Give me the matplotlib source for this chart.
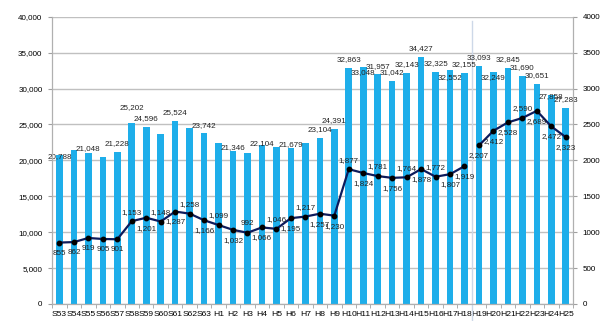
import numpy as np
from matplotlib import pyplot as plt
from matplotlib.ticker import FuncFormatter, MultipleLocator

plt.rcParams["font.family"] = ["Liberation Sans", "DejaVu Sans"]

years = ["S53", "S54", "S55", "S56", "S57", "S58", "S59", "S60", "S61", "S62", "S63"] + \
        ["H%d" % i for i in range(1, 26)]

# bar series (left axis)
bars = [20788, 21400, 21048, 20400, 21228, 25202, 24596, 23600, 25524, 24450, 23742,
        22400, 21346, 21000, 22104, 21850, 21679, 22400, 23104, 24391, 32863, 33048,
        31957, 31042, 32143, 34427, 32325, 32552, 32155, 33093, 32249, 32845, 31690,
        30651, 29050, 27283]
bar_text = ["20,788", None, "21,048", None, "21,228", "25,202", "24,596", None, "25,524", None,
            "23,742", None, "21,346", None, "22,104", None, "21,679", None, "23,104", "24,391",
            "32,863", "33,048", "31,957", "31,042", "32,143", "34,427", "32,325", "32,552",
            "32,155", "33,093", "32,249", "32,845", "31,690", "30,651", "27,858", "27,283"]

# line series (right axis)
line = [855, 862, 919, 905, 901, 1153, 1201, 1148, 1287, 1258, 1166, 1099, 1032, 992,
        1066, 1046, 1195, 1217, 1257, 1230, 1877, 1824, 1781, 1756, 1764, 1878, 1772,
        1807, 1919, 2207, 2412, 2528, 2590, 2689, 2472, 2323]
line_pos = "bbbbbabababababababbababababbbbbabbb"
split = 29  # line breaks between H18 and H19

# bar labels that excel nudged away from the default spot (points)
bar_nudge = {"S53": -7, "S55": -3, "H2": -4, "H4": -5, "H6": -3, "S58": 5,
             "H11": -10, "H17": -11, "H20": -10, "H24": -7}

fs = 5.8
x = np.arange(len(years))

fig = plt.figure(figsize=(6, 3.21), dpi=100)
ax = fig.add_axes([0.087, 0.053, 0.868, 0.895])
ax2 = ax.twinx()

ax.set_axisbelow(True)
ax.grid(True, axis="y", color="#c0c0c0", lw=1)
ax.bar(x, bars, width=0.46, color="#1eaeea", zorder=2)
for xi, v, t, yr in zip(x, bars, bar_text, years):
    if t:
        ax.annotate(t, (xi, v), xytext=(0, 6 + bar_nudge.get(yr, 0)),
                    textcoords="offset points", ha="center", va="center",
                    fontsize=fs, color="#222222", zorder=4)

ax.axvline(28.5, ymin=-0.06, ymax=0.985, color="#cdd8e8", lw=1, zorder=1, clip_on=False)

ax.set_xlim(-0.5, len(years) - 0.5)
ax.set_ylim(0, 40000)
ax.yaxis.set_major_locator(MultipleLocator(5000))
ax.yaxis.set_major_formatter(FuncFormatter(lambda v, p: "{:,}".format(int(v))))
ax.set_xticks(x)
ax.set_xticklabels(years)
ax.set_xticks(np.arange(-0.5, len(years)), minor=True)
ax.tick_params(axis="x", which="major", length=0, labelsize=fs + 0.3, pad=5)
ax.tick_params(axis="x", which="minor", length=3, color="#a0a0a0")
ax.tick_params(axis="y", length=3, color="#a0a0a0", labelsize=fs, pad=4)

for sl in (slice(0, split), slice(split, None)):
    ax2.plot(x[sl], line[sl], color="#0d1b5c", lw=1.6, marker="o", ms=3.2,
             mfc="black", mec="black", zorder=3)
for xi, v, p in zip(x, line, line_pos):
    dy = 4 if p == "a" else -5
    ax2.annotate("{:,}".format(v), (xi, v), xytext=(0, dy), textcoords="offset points",
                 ha="center", va="bottom" if p == "a" else "top", fontsize=fs,
                 color="#222222")
ax2.set_ylim(0, 4000)
ax2.yaxis.set_major_locator(MultipleLocator(500))
ax2.tick_params(axis="y", length=3, color="#a0a0a0", labelsize=fs, pad=4)

for a in (ax, ax2):
    for s in ("left", "right", "bottom"):
        a.spines[s].set_color("#b0b0b0")
    a.spines["top"].set_visible(False)

fig.savefig("out.png", dpi=100)
